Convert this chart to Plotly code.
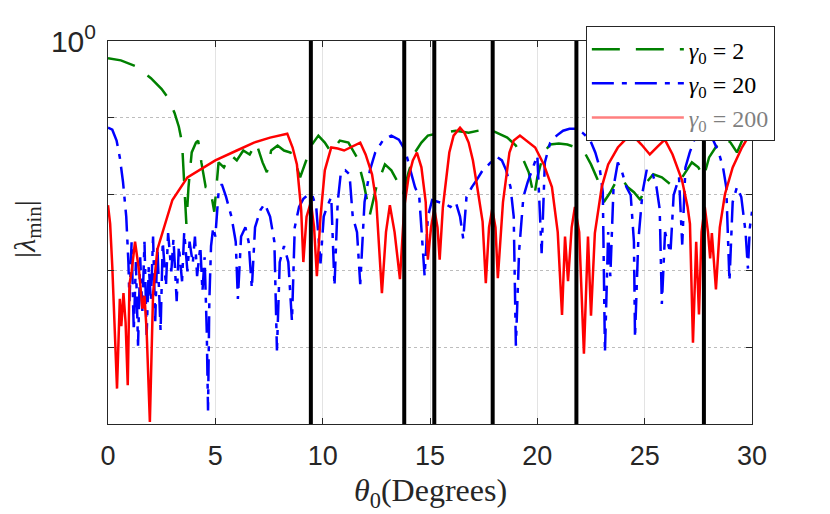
import plotly.graph_objects as go

# ---------------- data ----------------
x_ticks = [0, 5, 10, 15, 20, 25, 30]
y_tickvals = [1e-5, 1e-4, 1e-3, 1e-2, 1e-1, 1]
y_ticktext = ["", "", "", "", "", "10<sup>0</sup>"]

# angles of the thick black vertical markers (degrees)
marker_angles = [9.45, 13.8, 15.2, 17.92, 21.82, 27.76]

# gamma0 = 2 (green dashed)
green_x = [0, 0.6, 1.3, 2.0, 2.5, 2.8, 3.1, 3.3, 3.45, 3.55,
           3.65, 3.75, 3.9, 4.1, 4.2, 4.35, 4.55, 4.75, 4.95, 5.15,
           5.4, 5.7, 6.0, 6.3, 6.6, 6.9, 7.2, 7.4, 7.6, 7.9,
           8.2, 8.5, 8.75, 8.95, 9.2, 9.5, 9.8, 10.1, 10.4, 10.8,
           11.2, 11.6, 11.9, 12.2, 12.5, 12.9, 13.2, 13.5, 13.75, 14.0,
           14.3, 14.6, 14.9, 15.3, 15.7, 16.2, 16.8, 17.3, 17.7, 18.1,
           18.6, 19.0, 19.3, 19.6, 19.85, 20.0, 20.3, 20.6, 21.0, 21.4,
           21.8, 22.2, 22.5, 22.8, 23.1, 23.4, 23.7, 23.9, 24.2, 24.5,
           24.8, 25.1, 25.4, 25.8, 26.2, 26.6, 26.9, 27.2, 27.5, 27.75,
           28.0, 28.3, 28.7, 29.0, 29.3, 29.6, 30.0]
green_y = [0.594, 0.559, 0.468, 0.327, 0.236, 0.180, 0.115, 0.076, 0.0472, 0.0166,
           0.0041, 0.0124, 0.0351, 0.0472, 0.0501, 0.026, 0.0124, 0.0124, 0.0059, 0.026,
           0.0224, 0.033, 0.0276, 0.0372, 0.033, 0.0472, 0.026, 0.0193, 0.0372, 0.0432,
           0.0372, 0.0351, 0.0245, 0.0166, 0.026, 0.0445, 0.0582, 0.0472, 0.0351, 0.0501,
           0.0472, 0.0302, 0.0144, 0.0054, 0.0124, 0.0245, 0.0205, 0.0144, 0.0100, 0.0193,
           0.0351, 0.0472, 0.0582, 0.0617, 0.0636, 0.0675, 0.0636, 0.0675, 0.0716, 0.0636,
           0.0548, 0.0432, 0.0302, 0.0193, 0.0092, 0.0166, 0.0351, 0.0445, 0.0458, 0.0445,
           0.0407, 0.0351, 0.0245, 0.0157, 0.0079, 0.0106, 0.0152, 0.0166, 0.0124, 0.0106,
           0.0084, 0.0144, 0.0182, 0.0166, 0.0135, 0.0144, 0.0193, 0.026, 0.0224, 0.0166,
           0.0302, 0.0407, 0.0548, 0.0472, 0.0351, 0.0548, 0.0738]

# gamma0 = 20 (blue dash-dot)
blue_x = [0, 0.2, 0.4, 0.55, 0.7, 0.85, 0.95, 1.0, 1.1, 1.2,
          1.3, 1.4, 1.5, 1.6, 1.7, 1.8, 1.9, 2.0, 2.1, 2.2,
          2.3, 2.45, 2.55, 2.7, 2.8, 2.95, 3.05, 3.2, 3.3, 3.45,
          3.55, 3.7, 3.8, 3.95, 4.05, 4.15, 4.3, 4.4, 4.5, 4.6,
          4.66, 4.72, 4.8, 4.9, 5.0, 5.15, 5.3, 5.5, 5.75, 5.95,
          6.05, 6.2, 6.4, 6.55, 6.7, 6.85, 7.1, 7.3, 7.55, 7.75,
          7.87, 8.0, 8.2, 8.4, 8.57, 8.7, 8.9, 9.1, 9.3, 9.5,
          9.7, 9.9, 10.05, 10.2, 10.4, 10.55, 10.7, 10.85, 11.05, 11.25,
          11.4, 11.6, 11.75, 11.95, 12.2, 12.45, 12.8, 13.2, 13.55, 13.85,
          14.05, 14.3, 14.5, 14.75, 14.9, 15.1, 15.4, 15.7, 15.95, 16.2,
          16.4, 16.55, 16.7, 16.95, 17.2, 17.45, 17.7, 17.95, 18.15, 18.35,
          18.55, 18.75, 18.9, 19.0, 19.15, 19.35, 19.55, 19.8, 20.0, 20.2,
          20.35, 20.6, 20.9, 21.2, 21.5, 21.85, 22.1, 22.45, 22.7, 22.9,
          23.05, 23.15, 23.3, 23.4, 23.55, 23.75, 23.95, 24.15, 24.35, 24.5,
          24.55, 24.7, 24.9, 25.1, 25.35, 25.55, 25.7, 25.8, 25.95, 26.2,
          26.35, 26.6, 26.75, 26.9, 27.1, 27.35, 27.6, 27.9, 28.2, 28.45,
          28.65, 28.8, 28.95, 29.1, 29.3, 29.5, 29.7, 29.81, 29.9, 30.0]
blue_y = [0.0738, 0.0695, 0.0501, 0.0302, 0.0144, 0.0051, 0.0013, 4.0e-4, 0.0024, 1.64e-4,
          0.0013, 1.05e-4, 0.0015, 3.0e-4, 0.0024, 1.45e-4, 0.00114, 4.0e-4, 0.0028, 2.2e-4,
          0.0021, 1.64e-4, 0.0024, 6.3e-4, 0.0031, 9.8e-4, 0.0026, 4.0e-4, 0.0021, 7.3e-4,
          0.0032, 9.8e-4, 0.0024, 0.00125, 0.0028, 8.5e-4, 0.0021, 5.4e-4, 0.0015, 1.64e-4,
          1.5e-5, 4.0e-4, 0.0021, 0.0037, 0.0028, 0.0106, 0.0135, 0.0092, 0.0051, 0.0024,
          4.3e-4, 0.0028, 0.0037, 0.0024, 5.9e-4, 0.0037, 0.0062, 0.0075, 0.0051, 0.0024,
          9.1e-5, 0.0013, 0.0021, 0.0013, 2.2e-4, 0.0037, 0.0068, 0.0087, 0.0097, 0.0100,
          0.0068, 0.00125, 0.0051, 0.0068, 0.0092, 6.3e-4, 0.0079, 0.0193, 0.0205, 0.0182,
          0.0051, 0.0032, 6.7e-4, 0.0079, 0.0205, 0.0351, 0.0501, 0.0582, 0.0516, 0.0372,
          0.0224, 0.0124, 0.0092, 8.5e-4, 0.0051, 0.0084, 0.0079, 0.0075, 0.0068, 0.0079,
          0.0051, 0.0026, 0.0092, 0.0124, 0.0157, 0.0205, 0.0238, 0.0284, 0.0302, 0.0276,
          0.0205, 0.0124, 0.0051, 1.05e-4, 0.0018, 0.0092, 0.0144, 0.0224, 0.032, 0.0017,
          0.026, 0.0472, 0.0582, 0.0675, 0.0716, 0.0716, 0.0636, 0.0516, 0.0351, 0.0224,
          0.0106, 8.5e-5, 0.0032, 8.5e-4, 0.0124, 0.026, 0.0193, 0.0124, 0.0097, 0.0024,
          1.33e-4, 0.0024, 0.0106, 0.0211, 0.0193, 0.0124, 0.0064, 3.7e-4, 0.0032, 0.0017,
          0.0097, 0.0166, 0.0022, 0.0224, 0.0351, 0.0548, 0.0636, 0.0582, 0.0501, 0.0351,
          0.0224, 0.0124, 7.3e-4, 0.0079, 0.0124, 0.0092, 0.0032, 0.00107, 0.0037, 0.0059]

# gamma0 = 200 (red solid)
red_x = [0, 0.1, 0.2, 0.3, 0.42, 0.55, 0.62, 0.72, 0.82, 0.92,
         1.0, 1.1, 1.26, 1.45, 1.6, 1.7, 1.8, 1.95, 2.1, 2.3,
         2.6, 3.0, 3.7, 4.3, 5.0, 6.0, 6.8, 7.55, 8.35, 8.6,
         8.8, 9.0, 9.1, 9.25, 9.45, 9.6, 9.73, 9.9, 10.1, 10.4,
         10.7, 11.0, 11.4, 11.75, 12.0, 12.3, 12.5, 12.76, 12.95, 13.13,
         13.35, 13.6, 13.8, 14.0, 14.2, 14.39, 14.6, 14.8, 14.9, 15.05,
         15.2, 15.35, 15.45, 15.6, 15.9, 16.1, 16.4, 16.6, 16.8, 17.0,
         17.2, 17.45, 17.6, 17.75, 17.9, 18.05, 18.16, 18.4, 18.7, 18.9,
         19.19, 19.6, 19.9, 20.3, 20.68, 20.95, 21.15, 21.29, 21.43, 21.6,
         21.75, 21.95, 22.17, 22.36, 22.5, 22.68, 23.0, 23.3, 23.75, 24.1,
         24.45, 24.85, 25.24, 25.6, 25.94, 26.3, 26.74, 27.0, 27.11, 27.25,
         27.4, 27.53, 27.65, 27.8, 27.95, 28.05, 28.13, 28.32, 28.5, 28.74,
         29.1, 29.53, 30.0]
red_y = [0.0072, 0.0041, 0.00114, 1.64e-4, 2.9e-5, 4.3e-4, 1.9e-4, 5.1e-4, 2.1e-4, 3.2e-5,
         6.7e-4, 9.8e-4, 0.0024, 9.8e-4, 3.2e-4, 4.7e-4, 1.64e-4, 1.06e-5, 5.1e-4, 0.0019,
         0.0037, 0.0084, 0.0166, 0.0211, 0.0276, 0.0372, 0.0472, 0.0548, 0.0617, 0.0407,
         0.0245, 0.0062, 0.0013, 0.0051, 0.0079, 0.0037, 8.5e-4, 0.0051, 0.0205, 0.0407,
         0.0395, 0.0372, 0.0419, 0.0472, 0.033, 0.0182, 0.0079, 5.1e-4, 0.0032, 0.0072,
         0.0032, 7.8e-4, 0.0068, 0.0166, 0.0276, 0.035, 0.0224, 0.0079, 0.0014, 0.0037,
         0.0064, 0.0037, 0.0014, 0.0068, 0.035, 0.0582, 0.0738, 0.0636, 0.0472, 0.0276,
         0.0124, 0.0044, 6.9e-4, 0.0037, 0.0064, 0.0037, 8.0e-4, 0.0079, 0.035, 0.0501,
         0.0582, 0.0472, 0.0407, 0.0245, 0.0124, 0.0032, 2.65e-4, 0.0028, 7.3e-4, 0.0037,
         0.0068, 0.0032, 8.3e-5, 0.0028, 2.6e-4, 0.0031, 0.0124, 0.0245, 0.0407, 0.0516,
         0.0582, 0.0445, 0.033, 0.0419, 0.0516, 0.033, 0.0152, 0.0068, 0.0041, 1.15e-4,
         0.0024, 2.7e-4, 0.0032, 0.0068, 0.0032, 0.00145, 0.0031, 5.7e-4, 0.0037, 0.01,
         0.0224, 0.0407, 0.0675]

series_names = ["<i>γ</i><sub>0</sub> = 2", "<i>γ</i><sub>0</sub> = 20", "<i>γ</i><sub>0</sub> = 200"]

# ---------------- figure ----------------
AX = "#262626"
SERIF = "Liberation Serif"
SANS = "Liberation Sans"

fig = go.Figure()
fig.add_trace(go.Scatter(x=green_x, y=green_y, mode="lines", name=series_names[0],
                         line=dict(color="#008000", width=2.5, dash="28px,16px")))
fig.add_trace(go.Scatter(x=blue_x, y=blue_y, mode="lines", name=series_names[1],
                         line=dict(color="#0000ff", width=2.5, dash="22px,8px,5px,8px")))
fig.add_trace(go.Scatter(x=red_x, y=red_y, mode="lines", showlegend=False,
                         line=dict(color="#ff0000", width=2.5)))
# legend entry for the red curve, shown faded as in the reference
fig.add_trace(go.Scatter(x=red_x, y=red_y, mode="lines", name=series_names[2],
                         visible="legendonly", line=dict(color="#ff0000", width=2.5)))

for a in marker_angles:
    fig.add_shape(type="line", xref="x", yref="paper", x0=a, x1=a, y0=0, y1=1,
                  line=dict(color="black", width=4), layer="above")

# the page body adds an 8px offset; size the figure so the plot area lands
# at x 108..752, y 37..424 of the 830x514 window
fig.update_layout(
    width=822, height=506, autosize=False,
    margin=dict(l=100, r=78, t=29, b=90),
    paper_bgcolor="white", plot_bgcolor="white",
    showlegend=True,
    legend=dict(x=0.742, y=1.039, xanchor="left", yanchor="top",
                bgcolor="white", bordercolor=AX, borderwidth=1,
                font=dict(family=SERIF, size=24, color="black"),
                itemwidth=92, tracegroupgap=0),
    xaxis=dict(range=[0, 30], tickvals=x_ticks, showgrid=True, gridcolor="#e3e3e3",
               gridwidth=1, zeroline=False, showline=True, linecolor=AX, linewidth=1,
               mirror="ticks", ticks="inside", ticklen=6, tickcolor=AX,
               ticklabelstandoff=8,
               tickfont=dict(family=SANS, size=27, color=AX)),
    yaxis=dict(type="log", range=[-5, 0], tickvals=y_tickvals, ticktext=y_ticktext,
               showgrid=True, gridcolor="#bdbdbd", griddash="dot", gridwidth=1,
               zeroline=False, showline=True, linecolor=AX, linewidth=1,
               mirror="ticks", ticks="inside", ticklen=6, tickcolor=AX,
               ticklabelstandoff=5,
               tickfont=dict(family=SANS, size=30, color=AX)),
    annotations=[
        dict(text="<i>θ</i><sub>0</sub>(Degrees)", xref="paper", yref="paper",
             x=0.5, y=-0.178, xanchor="center", yanchor="middle", showarrow=False,
             font=dict(family=SERIF, size=32, color=AX)),
        dict(text="|<i>λ</i><sub>min</sub>|", xref="paper", yref="paper",
             x=-0.127, y=0.51, xanchor="center", yanchor="middle", showarrow=False,
             textangle=-90, font=dict(family=SERIF, size=30, color=AX)),
    ],
)

fig.write_html("out.html")
